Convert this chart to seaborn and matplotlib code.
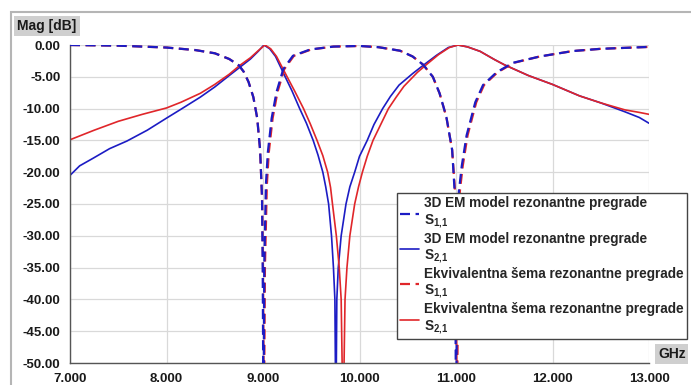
import matplotlib
matplotlib.use("Agg")
import matplotlib.pyplot as plt
import pandas as pd
import seaborn as sns
from matplotlib.patches import Rectangle
from matplotlib.ticker import FormatStrFormatter

# frequency [GHz] / magnitude [dB]
em_s11_f = [7.0, 7.5, 8.0, 8.3, 8.5, 8.65, 8.75, 8.8, 8.85, 8.9, 8.94, 8.97, 8.99, 8.997,
            9.005, 9.013, 9.03, 9.05, 9.09, 9.14, 9.21, 9.31, 9.49, 9.73, 10.0, 10.2, 10.42,
            10.55, 10.66, 10.76, 10.83, 10.9, 10.96, 10.99, 11.0, 11.015, 11.03, 11.06, 11.11,
            11.2, 11.28, 11.42, 11.59, 11.87, 12.21, 12.5, 13.0]
em_s11_db = [0.0, -0.1, -0.4, -0.8, -1.3, -2.2, -3.2, -4.2, -5.8, -8.2, -11.5, -16.5, -24.0, -35.0,
             -60.0, -35.0, -22.0, -16.9, -11.5, -7.4, -3.8, -1.7, -0.7, -0.25, -0.15, -0.35, -0.9,
             -1.8, -3.1, -5.0, -7.6, -11.3, -16.5, -24.0, -60.0, -30.0, -23.0, -19.0, -14.2,
             -9.0, -6.3, -4.3, -2.8, -1.8, -0.95, -0.6, -0.3]

em_s21_f = [7.0, 7.1, 7.24, 7.41, 7.59, 7.8, 8.0, 8.15, 8.35, 8.5, 8.65, 8.76, 8.87, 8.95, 9.01,
            9.07, 9.13, 9.23, 9.3, 9.38, 9.45, 9.52, 9.57, 9.62, 9.65, 9.68, 9.71, 9.73, 9.745,
            9.755, 9.765, 9.78, 9.81, 9.86, 9.9, 9.95, 10.0, 10.08, 10.15, 10.24, 10.32, 10.41,
            10.55, 10.66, 10.8, 10.92, 11.02, 11.12, 11.25, 11.4, 11.5, 11.75, 12.0, 12.28,
            12.5, 12.75, 12.9, 13.0]
em_s21_db = [-20.5, -19.0, -17.8, -16.3, -15.1, -13.4, -11.5, -10.1, -8.2, -6.6, -4.8, -3.5,
             -2.2, -1.0, 0.0, -0.6, -1.8, -5.0, -7.2, -10.0, -12.3, -15.0, -17.3, -20.0, -22.3,
             -25.0, -30.0, -35.0, -40.0, -60.0, -40.0, -35.0, -30.0, -25.0, -22.3, -20.0, -17.5,
             -15.0, -12.5, -10.0, -8.1, -6.3, -4.5, -3.2, -1.6, -0.4, 0.0, -0.3, -1.0, -2.3,
             -3.1, -4.8, -6.2, -8.0, -9.1, -10.5, -11.4, -12.3]

eq_s11_f = [7.0, 7.5, 8.0, 8.3, 8.5, 8.65, 8.75, 8.8, 8.85, 8.9, 8.94, 8.97, 8.99, 9.0,
            9.01, 9.02, 9.04, 9.06, 9.1, 9.15, 9.22, 9.32, 9.5, 9.73, 10.0, 10.2, 10.42,
            10.55, 10.66, 10.76, 10.83, 10.9, 10.96, 10.995, 11.01, 11.025, 11.04, 11.07, 11.12,
            11.21, 11.29, 11.43, 11.6, 11.87, 12.21, 12.5, 13.0]
eq_s11_db = [0.0, -0.1, -0.4, -0.8, -1.3, -2.2, -3.2, -4.2, -5.8, -8.2, -11.5, -16.5, -24.0, -35.0,
             -60.0, -35.0, -22.0, -16.9, -11.5, -7.4, -3.8, -1.7, -0.7, -0.25, -0.15, -0.35, -0.9,
             -1.8, -3.1, -5.0, -7.6, -11.3, -16.5, -24.0, -60.0, -30.0, -23.0, -19.0, -14.2,
             -9.0, -6.3, -4.3, -2.8, -1.8, -0.95, -0.6, -0.3]

eq_s21_f = [7.0, 7.25, 7.5, 7.75, 8.0, 8.15, 8.35, 8.5, 8.65, 8.76, 8.87, 8.95, 9.02,
            9.08, 9.14, 9.25, 9.33, 9.42, 9.49, 9.56, 9.62, 9.67, 9.7, 9.72, 9.76, 9.79, 9.81,
            9.83, 9.85, 9.87, 9.9, 9.95, 9.99, 10.03, 10.08, 10.14, 10.22, 10.3, 10.38, 10.46,
            10.6, 10.7, 10.82, 10.93, 11.02, 11.12, 11.25, 11.4, 11.5, 11.75, 12.0, 12.28,
            12.5, 12.75, 12.9, 13.0]
eq_s21_db = [-14.9, -13.4, -12.0, -10.9, -9.9, -9.0, -7.6, -6.2, -4.6, -3.2, -2.0, -0.9, 0.0,
             -0.6, -1.8, -5.0, -7.3, -10.0, -12.4, -15.0, -17.4, -20.0, -22.4, -25.0, -30.0,
             -35.0, -40.0, -60.0, -40.0, -35.0, -30.0, -25.0, -22.3, -20.0, -17.5, -15.0, -12.5,
             -10.0, -8.2, -6.5, -4.3, -3.0, -1.5, -0.4, 0.0, -0.3, -1.0, -2.3, -3.1, -4.8, -6.2,
             -8.0, -9.1, -10.2, -10.6, -10.9]

x_ticks = [7, 8, 9, 10, 11, 12, 13]
y_ticks = [0, -5, -10, -15, -20, -25, -30, -35, -40, -45, -50]

labels = [
    "3D EM model rezonantne pregrade\nS$_\\mathbf{1{,}1}$",
    "3D EM model rezonantne pregrade\nS$_\\mathbf{2{,}1}$",
    "Ekvivalentna šema rezonantne pregrade\nS$_\\mathbf{1{,}1}$",
    "Ekvivalentna šema rezonantne pregrade\nS$_\\mathbf{2{,}1}$",
]

BLUE = "#1c1cc4"
RED = "#e0262a"

sns.set_theme(style="whitegrid")
plt.rcParams.update({
    "font.family": ["Liberation Sans", "DejaVu Sans"],
    "mathtext.fontset": "custom",
    "mathtext.bf": "Liberation Sans:bold",
    "mathtext.rm": "Liberation Sans:bold",
    "axes.unicode_minus": False,
})

fig = plt.figure(figsize=(6.91, 3.85), dpi=100)
ax = fig.add_axes([70 / 691, 1 - 363 / 385, 579 / 691, 318 / 385])
ax.set_facecolor("white")

series = [
    (em_s11_f, em_s11_db, BLUE, "--", 1.6, 4),
    (em_s21_f, em_s21_db, BLUE, "-", 1.2, 2),
    (eq_s11_f, eq_s11_db, RED, "--", 1.6, 3),
    (eq_s21_f, eq_s21_db, RED, "-", 1.2, 2.5),
]
handles = []
for (f, db, color, ls, lw, z), lab in zip(series, labels):
    df = pd.DataFrame({"f": f, "db": db})
    sns.lineplot(data=df, x="f", y="db", ax=ax, color=color, linewidth=lw,
                 estimator=None, sort=False, zorder=z)
    line = ax.lines[-1]
    line.set_linestyle(ls)
    if ls == "--":
        line.set_dashes((4.5, 2.5))
    line.set_label(lab)
    handles.append(line)

ax.set_xlim(7, 13)
ax.set_ylim(-50, 0)
ax.set_xticks(x_ticks)
ax.set_yticks(y_ticks)
ax.xaxis.set_major_formatter(FormatStrFormatter("%.3f"))
ax.yaxis.set_major_formatter(FormatStrFormatter("%.2f"))
ax.set_xlabel("")
ax.set_ylabel("")
ax.grid(True, color="#d9d9d9", linewidth=0.9)
for side in ["top", "right"]:
    ax.spines[side].set_visible(False)
for side in ["left", "bottom"]:
    ax.spines[side].set_color("#555555")
    ax.spines[side].set_linewidth(1.0)
ax.tick_params(axis="both", which="major", direction="out", length=4, width=1,
               color="#555555", labelsize=9.5, labelcolor="#1a1a1a")
ax.tick_params(axis="x", pad=3)
ax.tick_params(axis="y", pad=3)
for t in ax.get_xticklabels() + ax.get_yticklabels():
    t.set_fontweight("bold")

leg = ax.legend(handles=handles, loc="upper left",
                bbox_to_anchor=(397 / 691, 1 - 193 / 385), bbox_transform=fig.transFigure,
                borderaxespad=0, frameon=True, fancybox=False, framealpha=1,
                edgecolor="#444444", prop={"weight": "bold", "size": 9.8},
                handlelength=1.4, handletextpad=0.3, labelspacing=0.12,
                borderpad=0.25)
leg.get_frame().set_linewidth(1.0)
leg.set_zorder(10)

# outer frame of the chart window
fig.patches.append(Rectangle((11 / 691, -0.1), 1.0, 1.1 - 12 / 385,
                             transform=fig.transFigure, fill=False,
                             edgecolor="#b5b5b5", linewidth=1.5))

fig.text(17 / 691, 1 - 26 / 385, "Mag [dB]", fontsize=10, fontweight="bold",
         color="#1a1a1a", va="center", ha="left",
         bbox=dict(boxstyle="square,pad=0.25", facecolor="#cfcfcf", edgecolor="none"))
fig.text(658 / 691, 1 - 354 / 385, "GHz", fontsize=10, fontweight="bold",
         color="#1a1a1a", va="center", ha="left",
         bbox=dict(boxstyle="square,pad=0.2", facecolor="#cfcfcf", edgecolor="none"))

fig.savefig("out.png", dpi=100)
plt.close(fig)
